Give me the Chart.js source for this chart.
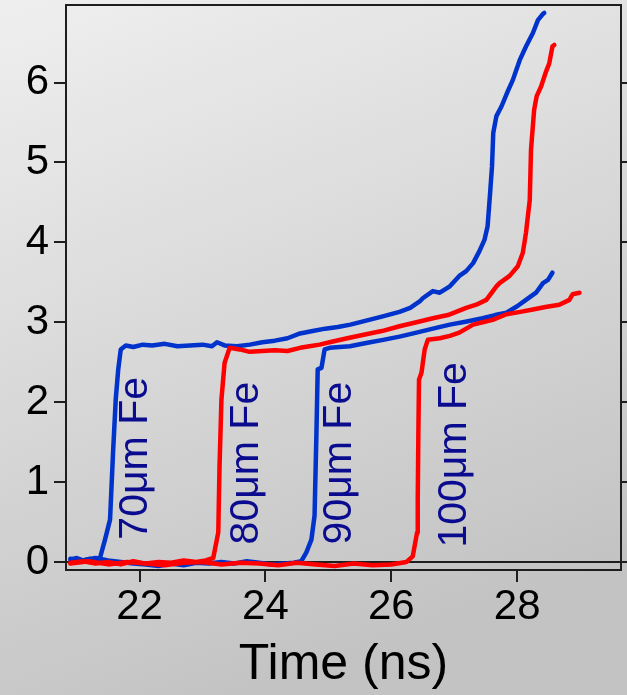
<!DOCTYPE html>
<html>
<head>
<meta charset="utf-8">
<script src="https://cdn.jsdelivr.net/npm/chart.js@4/dist/chart.umd.min.js"></script>
<style>
  html, body { margin: 0; padding: 0; background: #d8d8d8; }
  canvas { display: block; }
</style>
</head>
<body>
<canvas id="c" width="627" height="695"></canvas>
<script>
// Axis ticks
const xTicks = [22, 24, 26, 28];
const yTicks = [0, 1, 2, 3, 4, 5, 6];

// 70 µm Fe shot (blue)
const t70 = [20.90, 21.00, 21.10, 21.20, 21.30, 21.37, 21.45, 21.53, 21.58, 21.62, 21.66, 21.70, 21.78, 21.90, 22.05, 22.20, 22.40, 22.60, 22.80, 23.00, 23.15, 23.23, 23.35, 23.55, 23.75, 23.95, 24.15, 24.35, 24.55, 24.75, 24.95, 25.15, 25.35, 25.60, 25.85, 26.13, 26.30, 26.45, 26.50, 26.66, 26.77, 26.93, 27.08, 27.19, 27.30, 27.40, 27.48, 27.53, 27.57, 27.60, 27.62, 27.67, 27.75, 27.85, 27.93, 28.04, 28.14, 28.25, 28.33, 28.41, 28.43];
const v70 = [0.03, 0.05, 0.02, 0.04, 0.03, 0.05, 0.28, 0.53, 1.41, 2.03, 2.41, 2.66, 2.71, 2.69, 2.72, 2.71, 2.73, 2.70, 2.71, 2.72, 2.70, 2.75, 2.71, 2.70, 2.72, 2.75, 2.77, 2.80, 2.86, 2.89, 2.92, 2.94, 2.97, 3.02, 3.07, 3.13, 3.18, 3.26, 3.30, 3.39, 3.37, 3.45, 3.58, 3.64, 3.74, 3.89, 4.03, 4.20, 4.62, 4.95, 5.37, 5.58, 5.70, 5.89, 6.03, 6.28, 6.45, 6.62, 6.78, 6.86, 6.87];

// 80 µm Fe shot (red)
const t80 = [20.90, 21.10, 21.30, 21.50, 21.70, 21.90, 22.10, 22.30, 22.50, 22.70, 22.90, 23.05, 23.17, 23.25, 23.27, 23.30, 23.35, 23.43, 23.59, 23.75, 23.95, 24.15, 24.35, 24.55, 24.70, 24.86, 25.07, 25.30, 25.60, 25.85, 26.13, 26.40, 26.66, 26.90, 27.19, 27.35, 27.51, 27.67, 27.72, 27.88, 28.01, 28.09, 28.14, 28.20, 28.22, 28.27, 28.31, 28.38, 28.46, 28.51, 28.56, 28.59];
const v80 = [-0.01, 0.01, -0.02, 0.00, -0.03, 0.01, -0.02, 0.00, -0.01, 0.02, 0.00, 0.02, 0.05, 0.37, 1.20, 2.03, 2.49, 2.68, 2.66, 2.63, 2.64, 2.65, 2.64, 2.68, 2.70, 2.72, 2.76, 2.80, 2.85, 2.89, 2.95, 3.00, 3.05, 3.09, 3.18, 3.22, 3.28, 3.45, 3.49, 3.58, 3.70, 3.87, 4.12, 4.53, 5.16, 5.66, 5.83, 5.95, 6.14, 6.24, 6.45, 6.47];

// 90 µm Fe shot (blue)
const t90 = [20.90, 21.10, 21.30, 21.50, 21.70, 21.90, 22.10, 22.30, 22.50, 22.70, 22.90, 23.10, 23.30, 23.50, 23.70, 23.90, 24.10, 24.30, 24.45, 24.57, 24.65, 24.73, 24.78, 24.81, 24.83, 24.89, 24.94, 25.02, 25.34, 25.60, 25.87, 26.13, 26.40, 26.66, 26.93, 27.20, 27.45, 27.65, 27.83, 28.00, 28.14, 28.30, 28.41, 28.49, 28.56];
const v90 = [0.04, 0.02, 0.05, 0.02, 0.00, -0.02, -0.03, -0.05, -0.02, -0.04, -0.01, -0.02, 0.00, -0.02, 0.01, -0.01, -0.03, -0.02, -0.01, 0.01, 0.12, 0.28, 0.58, 1.62, 2.41, 2.43, 2.66, 2.68, 2.70, 2.74, 2.78, 2.82, 2.87, 2.92, 2.97, 3.01, 3.05, 3.09, 3.12, 3.20, 3.28, 3.37, 3.49, 3.53, 3.62];

// 100 µm Fe shot (red)
const t100 = [20.90, 21.20, 21.50, 21.80, 22.10, 22.40, 22.70, 23.00, 23.30, 23.60, 23.90, 24.20, 24.50, 24.80, 25.10, 25.40, 25.70, 26.00, 26.24, 26.34, 26.41, 26.42, 26.43, 26.44, 26.48, 26.53, 26.58, 26.77, 26.93, 27.08, 27.30, 27.45, 27.61, 27.83, 28.05, 28.25, 28.45, 28.67, 28.83, 28.88, 28.99];
const v100 = [-0.02, 0.01, -0.03, 0.00, -0.02, -0.04, -0.01, 0.00, -0.03, -0.01, -0.02, -0.04, -0.01, -0.03, -0.05, -0.02, -0.04, -0.03, 0.00, 0.07, 0.37, 0.78, 1.62, 2.28, 2.37, 2.66, 2.78, 2.80, 2.83, 2.87, 2.97, 3.00, 3.03, 3.10, 3.13, 3.16, 3.19, 3.22, 3.28, 3.35, 3.37];

// Thickness labels written along each rising edge
const labelTexts = ['70\u03BCm Fe', '80\u03BCm Fe', '90\u03BCm Fe', '100\u03BCm Fe'];
const labelX = [21.94, 23.70, 25.18, 27.00];
const labelY = [0.28, 0.22, 0.22, 0.18];

const BLUE = '#0033cc';
const RED = '#ff0000';
const INK = '#1e1e1e';
const FONT = '"Liberation Sans", Arial, Helvetica, sans-serif';

const pts = (t, v) => t.map((x, i) => ({ x, y: v[i] }));

const bgPlugin = {
  id: 'bg',
  beforeDraw(chart) {
    const { ctx, width, height } = chart;
    const g = ctx.createLinearGradient(0, 0, 260, height);
    g.addColorStop(0, '#efefef');
    g.addColorStop(1, '#c3c3c3');
    ctx.save();
    ctx.fillStyle = g;
    ctx.fillRect(0, 0, width, height);
    ctx.restore();
  }
};

const labelPlugin = {
  id: 'shotLabels',
  afterDatasetsDraw(chart) {
    const { ctx, scales } = chart;
    ctx.save();
    ctx.fillStyle = '#0b0b8f';
    ctx.font = '41px ' + FONT;
    ctx.textAlign = 'left';
    ctx.textBaseline = 'middle';
    labelTexts.forEach((txt, i) => {
      const px = scales.x.getPixelForValue(labelX[i]);
      const py = scales.y.getPixelForValue(labelY[i]);
      ctx.save();
      ctx.translate(px, py);
      ctx.rotate(-Math.PI / 2);
      ctx.fillText(txt, 0, 0);
      ctx.restore();
    });
    ctx.restore();
  }
};

const setTicks = (vals) => (scale) => { scale.ticks = vals.map(v => ({ value: v })); };
// fixed axis boxes, without the half-label padding Chart.js reserves
const fixW = (w) => (s) => { s.width = w; s.paddingTop = 0; s.paddingBottom = 0; };
const fixH = (h) => (s) => { s.height = h; s.paddingLeft = 0; s.paddingRight = 0; };

new Chart(document.getElementById('c'), {
  type: 'line',
  data: {
    datasets: [
      { data: pts(t70, v70), borderColor: BLUE, order: 2 },
      { data: pts(t80, v80), borderColor: RED, order: 1 },
      { data: pts(t90, v90), borderColor: BLUE, order: 2 },
      { data: pts(t100, v100), borderColor: RED, order: 1 }
    ]
  },
  options: {
    responsive: false,
    animation: false,
    layout: { padding: 0 },
    elements: {
      point: { radius: 0 },
      line: { borderWidth: 4.5, tension: 0, fill: false, borderJoinStyle: 'round', borderCapStyle: 'round' }
    },
    plugins: { legend: { display: false }, tooltip: { enabled: false } },
    scales: {
      x: {
        type: 'linear', position: 'bottom', min: 20.83, max: 29.65,
        afterBuildTicks: setTicks(xTicks),
        afterFit: fixH(125),
        grid: { drawOnChartArea: false, tickLength: 12, tickColor: INK, lineWidth: 2 },
        border: { display: true, color: INK, width: 2 },
        ticks: { color: '#000', padding: 0, font: { family: FONT, size: 42 }, maxRotation: 0 },
        title: { display: true, text: 'Time (ns)', color: '#000', font: { family: FONT, size: 50 }, padding: { top: 0, bottom: 0 } }
      },
      xTop: {
        type: 'linear', position: 'top', min: 20.83, max: 29.65,
        afterFit: fixH(5),
        grid: { display: false, drawTicks: false },
        border: { display: true, color: INK, width: 2 },
        ticks: { display: false }
      },
      y: {
        type: 'linear', position: 'left', min: -0.1, max: 6.97,
        afterBuildTicks: setTicks(yTicks),
        afterFit: fixW(66),
        grid: {
          drawOnChartArea: true, tickLength: 12, tickColor: INK, lineWidth: 2,
          color: (c) => (c.tick && c.tick.value === 0 ? INK : 'rgba(0,0,0,0)')
        },
        border: { display: true, color: INK, width: 2 },
        ticks: { color: '#000', padding: 5, font: { family: FONT, size: 42 } }
      },
      yRight: {
        type: 'linear', position: 'right', min: -0.1, max: 6.97,
        afterBuildTicks: setTicks(yTicks),
        afterFit: fixW(6),
        grid: { drawOnChartArea: false, tickLength: 12, tickColor: INK, lineWidth: 2 },
        border: { display: true, color: INK, width: 2 },
        ticks: { display: false }
      }
    }
  },
  plugins: [bgPlugin, labelPlugin]
});
</script>
</body>
</html>
